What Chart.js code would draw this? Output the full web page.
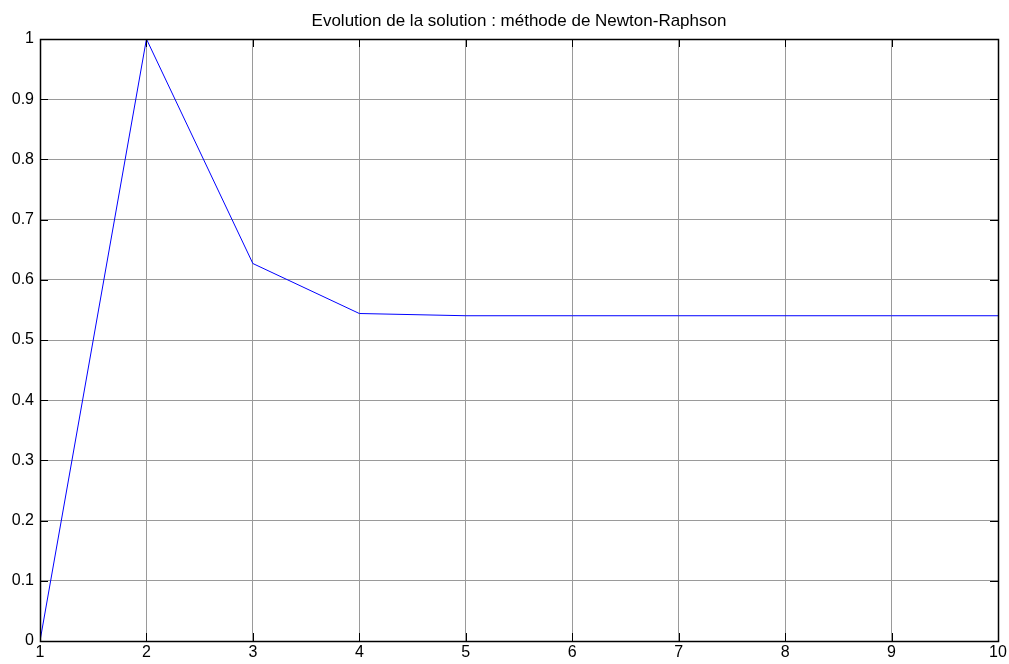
<!DOCTYPE html>
<html>
<head>
<meta charset="utf-8">
<script src="https://cdn.jsdelivr.net/npm/chart.js@4/dist/chart.umd.min.js"></script>
<style>
  html, body { margin: 0; padding: 0; background: #fff; }
  #wrap { width: 1009px; height: 664px; }
</style>
</head>
<body>
<div id="wrap"><canvas id="chart"></canvas></div>
<script>
// iterations of the Newton-Raphson method and the estimated solution
const iterations = [1, 2, 3, 4, 5, 6, 7, 8, 9, 10];
const solution = [0, 1, 0.627, 0.544, 0.5403, 0.5403, 0.5403, 0.5403, 0.5403, 0.5403];
const xTicks = [1, 2, 3, 4, 5, 6, 7, 8, 9, 10];
const yTicks = [0, 0.1, 0.2, 0.3, 0.4, 0.5, 0.6, 0.7, 0.8, 0.9, 1];
const titleText = 'Evolution de la solution : méthode de Newton-Raphson';

const FONT = 'Liberation Sans, Arial, sans-serif';

// MATLAB-like box: black frame, inner ticks on all four sides, title over the plot area
const matlabBox = {
    id: 'matlabBox',
    afterDraw(chart) {
        const { ctx, chartArea: a, scales } = chart;
        const tick = 8;
        ctx.save();
        ctx.strokeStyle = '#000';
        ctx.lineWidth = 1;
        ctx.beginPath();
        xTicks.forEach(v => {
            const x = Math.round(scales.x.getPixelForValue(v)) + 0.5;
            ctx.moveTo(x, a.bottom); ctx.lineTo(x, a.bottom - tick);
            ctx.moveTo(x, a.top); ctx.lineTo(x, a.top + tick);
        });
        yTicks.forEach(v => {
            const y = Math.round(scales.y.getPixelForValue(v)) + 0.5;
            ctx.moveTo(a.left, y); ctx.lineTo(a.left + tick, y);
            ctx.moveTo(a.right, y); ctx.lineTo(a.right - tick, y);
        });
        ctx.stroke();
        ctx.lineWidth = 1.5;
        ctx.strokeRect(Math.round(a.left) + 0.5, Math.round(a.top) + 0.5,
            Math.round(a.right - a.left), Math.round(a.bottom - a.top));

        ctx.fillStyle = '#000';
        ctx.font = '17px ' + FONT;
        ctx.textAlign = 'center';
        ctx.textBaseline = 'alphabetic';
        ctx.fillText(titleText, (a.left + a.right) / 2, 26);
        ctx.restore();
    }
};

new Chart(document.getElementById('chart'), {
    type: 'line',
    data: {
        datasets: [{
            data: iterations.map((it, i) => ({ x: it, y: solution[i] })),
            borderColor: '#0000ff',
            borderWidth: 1,
            pointRadius: 0,
            fill: false,
            tension: 0
        }]
    },
    options: {
        responsive: true,
        maintainAspectRatio: false,
        animation: false,
        layout: { padding: { top: 39, right: 11, left: 0, bottom: 0 } },
        plugins: {
            legend: { display: false },
            tooltip: { enabled: false },
            title: { display: false }
        },
        scales: {
            x: {
                type: 'linear',
                min: 1,
                max: 10,
                afterFit(scale) { scale.height = 23; },
                afterBuildTicks(scale) { scale.ticks = xTicks.map(v => ({ value: v })); },
                grid: { color: '#9a9a9a', borderDash: [1, 1], drawTicks: false },
                border: { display: false },
                ticks: {
                    color: '#000',
                    padding: 2,
                    maxRotation: 0,
                    autoSkip: false,
                    font: { family: FONT, size: 16 }
                }
            },
            y: {
                min: 0,
                max: 1,
                afterFit(scale) { scale.width = 40; },
                afterBuildTicks(scale) { scale.ticks = yTicks.map(v => ({ value: v })); },
                grid: { color: '#9a9a9a', borderDash: [1, 1], drawTicks: false },
                border: { display: false },
                ticks: {
                    color: '#000',
                    padding: 6,
                    autoSkip: false,
                    font: { family: FONT, size: 16 },
                    callback: v => String(Math.round(v * 10) / 10)
                }
            }
        }
    },
    plugins: [matlabBox]
});
</script>
</body>
</html>
